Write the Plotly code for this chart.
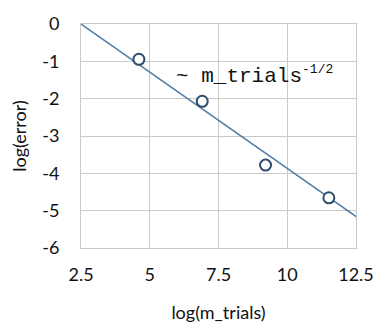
import plotly.graph_objects as go

# data
log_trials = [4.605, 6.908, 9.210, 11.513]
log_error = [-0.945, -2.07, -3.78, -4.655]
trend_x = [2.42, 12.6]
trend_y = [0.04, -5.21]
x_ticks = [2.5, 5, 7.5, 10, 12.5]
x_tick_labels = ["2.5", "5", "7.5", "10", "12.5"]
y_ticks = [0, -1, -2, -3, -4, -5, -6]
y_tick_labels = ["0", "-1", "-2", "-3", "-4", "-5", "-6"]

grid = "#c9c9c9"
font_main = "Lato, 'Open Sans', sans-serif"

fig = go.Figure()
fig.add_trace(go.Scatter(
    x=trend_x, y=trend_y, mode="lines",
    line=dict(color="#5580a8", width=1.6), hoverinfo="skip", showlegend=False,
))
fig.add_trace(go.Scatter(
    x=log_trials, y=log_error, mode="markers",
    marker=dict(size=11, color="white", line=dict(color="#2d4c6e", width=2)),
    showlegend=False, cliponaxis=False,
))

fig.add_annotation(
    x=5.87, y=-1.36, xref="x", yref="y", xanchor="left", yanchor="middle",
    text="~ m_trials<sup><span style='font-size:13px'>-1/2</span></sup>", showarrow=False,
    font=dict(family="'Liberation Mono', 'Courier New', monospace", size=21, color="#111"),
)

fig.update_layout(
    width=386, height=331,
    margin=dict(l=81, r=20, t=15, b=76),
    paper_bgcolor="white", plot_bgcolor="white",
    font=dict(family=font_main, color="#111"),
    xaxis=dict(
        range=[2.5, 12.5], tickvals=x_ticks, ticktext=x_tick_labels,
        showgrid=True, gridcolor=grid, gridwidth=1,
        showline=True, linecolor=grid, linewidth=1, mirror=True,
        zeroline=False, ticks="", tickfont=dict(size=18), ticklabelstandoff=10,
        title=dict(text="log(m_trials)", font=dict(size=18), standoff=22),
    ),
    yaxis=dict(
        range=[-6, 0], tickvals=y_ticks, ticktext=y_tick_labels,
        showgrid=True, gridcolor=grid, gridwidth=1,
        showline=True, linecolor=grid, linewidth=1, mirror=True,
        zeroline=False, ticks="", tickfont=dict(size=18), ticklabelstandoff=17,
        title=dict(text="log(error)", font=dict(size=18), standoff=10),
    ),
)

fig.write_html("out.html")
